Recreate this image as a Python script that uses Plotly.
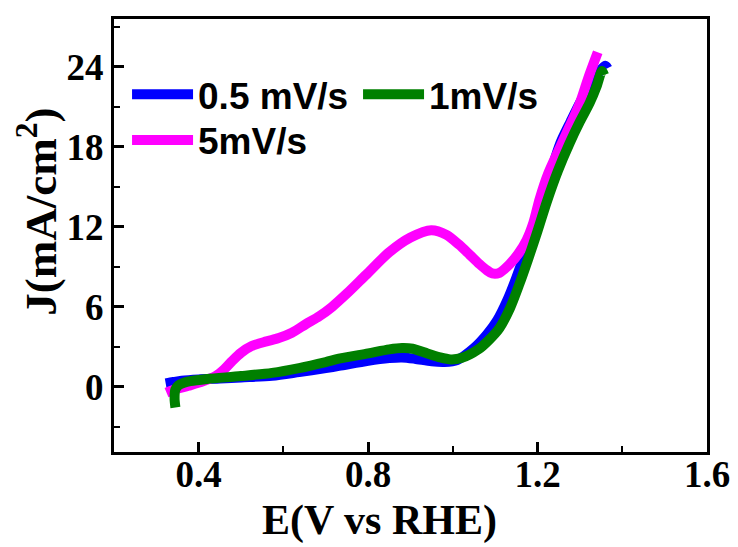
import plotly.graph_objects as go

# 0.5 mV/s (blue)
x_05 = [0.322, 0.34, 0.36, 0.40, 0.45, 0.50, 0.573, 0.637, 0.70, 0.731, 0.80, 0.85, 0.88, 0.91,
        0.95, 0.98, 1.01, 1.05, 1.08, 1.105, 1.13, 1.15, 1.17, 1.19, 1.207, 1.23, 1.254, 1.278,
        1.30, 1.32, 1.34, 1.36, 1.365]
y_05 = [0.25, 0.35, 0.45, 0.55, 0.62, 0.70, 0.82, 1.10, 1.40, 1.56, 1.95, 2.15, 2.20, 2.10,
        1.90, 1.85, 2.00, 2.90, 3.90, 5.00, 6.60, 8.20, 10.00, 12.00, 13.90, 16.00, 18.30, 19.90,
        21.30, 22.40, 23.40, 24.10, 23.90]

# 1 mV/s (green)
x_1 = [0.345, 0.343, 0.345, 0.352, 0.365, 0.38, 0.42, 0.50, 0.573, 0.637, 0.70, 0.731, 0.80,
       0.85, 0.88, 0.905, 0.94, 0.97, 0.995, 1.02, 1.06, 1.085, 1.11, 1.135, 1.157, 1.178, 1.20,
       1.222, 1.248, 1.276, 1.30, 1.323, 1.34, 1.352, 1.357]
y_1 = [-1.56, -0.90, -0.20, 0.10, 0.30, 0.42, 0.58, 0.80, 1.04, 1.40, 1.85, 2.10, 2.50,
       2.80, 2.90, 2.85, 2.50, 2.20, 2.05, 2.15, 2.80, 3.50, 4.40, 5.90, 7.70, 9.60, 11.70,
       13.90, 16.20, 18.30, 19.90, 21.30, 22.60, 23.70, 23.40]

# 5 mV/s (magenta)
x_5 = [0.324, 0.34, 0.376, 0.41, 0.44, 0.46, 0.478, 0.50, 0.525, 0.56, 0.589, 0.62, 0.653,
       0.685, 0.715, 0.75, 0.795, 0.85, 0.90, 0.949, 0.985, 1.015, 1.04, 1.063, 1.08, 1.093,
       1.11, 1.134, 1.155, 1.174, 1.19, 1.205, 1.225, 1.252, 1.275, 1.30, 1.32, 1.342]
y_5 = [-0.45, -0.25, 0.07, 0.40, 0.80, 1.30, 1.90, 2.55, 3.05, 3.40, 3.65, 4.05, 4.70,
       5.30, 6.00, 7.00, 8.40, 10.10, 11.20, 11.75, 11.40, 10.65, 9.90, 9.20, 8.75, 8.50,
       8.55, 9.20, 10.00, 11.00, 12.30, 14.10, 16.00, 17.90, 19.50, 21.30, 23.20, 25.10]

names = ["0.5 mV/s", "1mV/s", "5mV/s"]
colors = ["#0000FF", "#008000", "#FF00FF"]

fig = go.Figure()
fig.add_trace(go.Scatter(x=x_05, y=y_05, mode="lines", name=names[0], legend="legend",
                         legendrank=1,
                         line=dict(color=colors[0], width=10, shape="spline", smoothing=0.8)))
fig.add_trace(go.Scatter(x=x_5, y=y_5, mode="lines", name=names[2], legend="legend2",
                         line=dict(color=colors[2], width=10, shape="spline", smoothing=0.8)))
fig.add_trace(go.Scatter(x=x_1, y=y_1, mode="lines", name=names[1], legend="legend",
                         legendrank=2,
                         line=dict(color=colors[1], width=10, shape="spline", smoothing=0.8)))

tickfont = dict(family="Liberation Serif", size=37, color="black", weight="bold")
axis_common = dict(showline=True, linewidth=3, linecolor="black", mirror=True,
                   ticks="inside", ticklen=10, tickwidth=2.5, tickcolor="black",
                   showgrid=False, zeroline=False, tickfont=tickfont)

fig.update_xaxes(range=[0.2, 1.6], tickmode="linear", tick0=0.4, dtick=0.4, tickformat=".1f",
                 ticklabelstandoff=-12,
                 minor=dict(ticks="inside", dtick=0.2, ticklen=6, tickwidth=2, tickcolor="black"),
                 **axis_common)
fig.update_yaxes(range=[-4.9, 27.6], tickmode="linear", tick0=0, dtick=6,
                 minor=dict(ticks="inside", dtick=3, ticklen=6, tickwidth=2, tickcolor="black"),
                 **axis_common)

titlefont = dict(family="Liberation Serif", size=42, color="black", weight="bold")
fig.add_annotation(text="E(V vs RHE)", xref="paper", yref="paper", x=0.448, y=-0.158,
                   xanchor="center", yanchor="middle", showarrow=False, font=titlefont)
fig.add_annotation(text="J(mA/cm<sup>2</sup>)", xref="paper", yref="paper", x=-0.128, y=0.555,
                   xanchor="center", yanchor="middle", textangle=-90, showarrow=False,
                   font=dict(family="Liberation Serif", size=45, color="black", weight="bold"))

legfont = dict(family="Liberation Sans", size=37, color="black", weight="bold")
fig.update_layout(
    width=730, height=539,
    margin=dict(l=106, r=30, t=8, b=95),
    plot_bgcolor="white", paper_bgcolor="white",
    showlegend=True,
    legend=dict(orientation="h", x=0.022, y=0.8965, xanchor="left", yanchor="top",
                font=legfont, itemwidth=61, entrywidth=155, entrywidthmode="pixels",
                bgcolor="rgba(0,0,0,0)", traceorder="normal"),
    legend2=dict(orientation="h", x=0.022, y=0.791, xanchor="left", yanchor="top",
                 font=legfont, itemwidth=61, entrywidth=155, entrywidthmode="pixels",
                 bgcolor="rgba(0,0,0,0)"),
)

fig.write_html("out.html")
